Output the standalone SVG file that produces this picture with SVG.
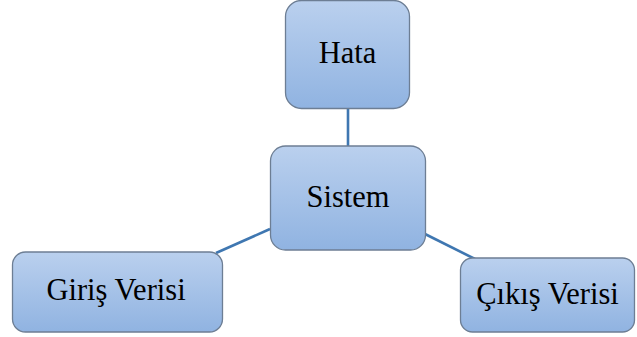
<svg xmlns="http://www.w3.org/2000/svg" width="637" height="337" viewBox="0 0 637 337">
  <defs>
    <linearGradient id="boxFill" x1="0" y1="0" x2="0" y2="1">
      <stop offset="0" stop-color="#bad0ee"/>
      <stop offset="1" stop-color="#90b3e1"/>
    </linearGradient>
    <style>
      .box { fill: url(#boxFill); stroke: #6d7e94; stroke-width: 1.3; }
      .label { font-family: 'Liberation Serif', 'DejaVu Serif', serif; font-size: 30.5px; fill: #000; text-anchor: middle; }
      .link { stroke: #3f77b1; stroke-width: 2.6; fill: none; }
    </style>
  </defs>

  <!-- connectors -->
  <g id="connectors">
    <line class="link" x1="348" y1="108" x2="348" y2="146"/>
    <line class="link" x1="270" y1="229" x2="216" y2="253"/>
    <line class="link" x1="425" y1="234" x2="475" y2="259"/>
  </g>

  <g id="hata">
    <rect class="box" x="285.5" y="0.5" width="124" height="108" rx="16"/>
    <text class="label" x="347.5" y="63">Hata</text>
  </g>

  <g id="sistem">
    <rect class="box" x="270.5" y="146" width="155" height="104" rx="15"/>
    <text class="label" x="348" y="207">Sistem</text>
  </g>

  <g id="giris">
    <rect class="box" x="12.5" y="252" width="210" height="80" rx="13"/>
    <text class="label" x="116" y="300">Giriş Verisi</text>
  </g>

  <g id="cikis">
    <rect class="box" x="460.5" y="258" width="174" height="74" rx="12"/>
    <text class="label" x="547.5" y="304">Çıkış Verisi</text>
  </g>
</svg>
